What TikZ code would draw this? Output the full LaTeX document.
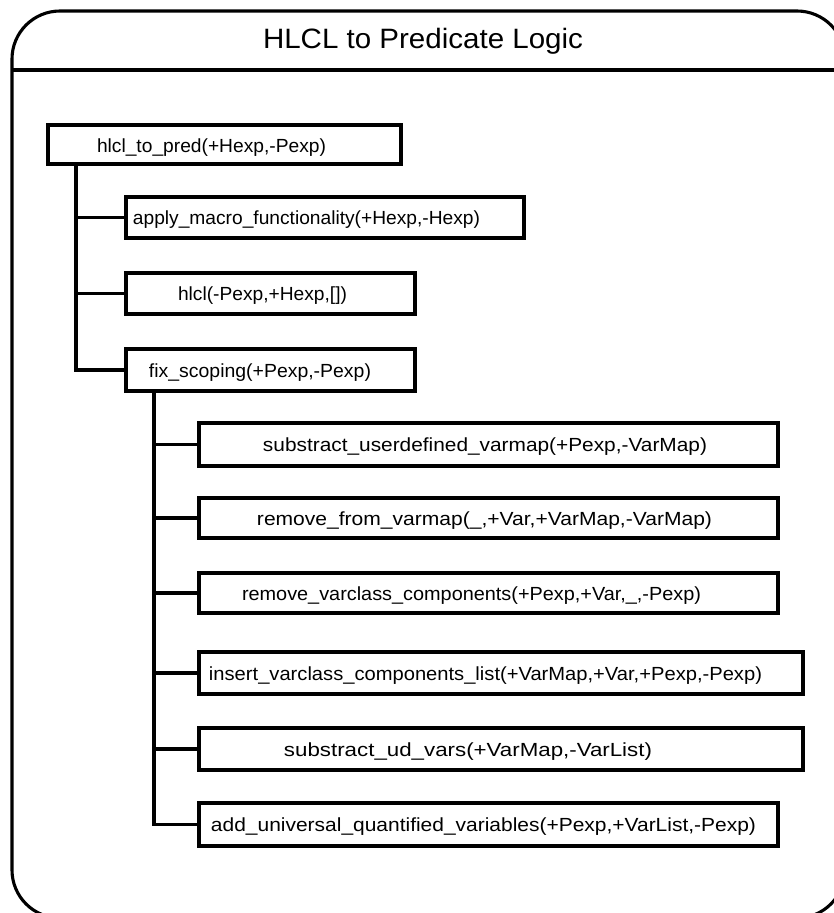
\documentclass[tikz,border=0pt]{standalone}
\usepackage{fontspec}
\setmainfont{Liberation Sans}
\usetikzlibrary{calc}
\tikzset{
  ln/.style={line width=3.1pt, line join=miter},
  box/.style={draw, ln, rectangle, inner sep=0pt, fill=white},
  lbl/.style={inner sep=0pt, anchor=base, font=\fontsize{19}{22}\selectfont},
  ttl/.style={inner sep=0pt, anchor=base, font=\fontsize{28}{32}\selectfont},
}
\newcommand{\bx}[6]{% name, x1, y1, x2, y2
  \node[box, minimum width={(#4-#2)*1pt}, minimum height={(#5-#3)*1pt}] (#1) at ({(#2+#4)/2},{(#3+#5)/2}) {};}
\newcommand{\tx}[5]{% name, cx, baseline y, width, text
  \node[lbl] (#1) at (#2,#3) {\resizebox{#4pt}{\height}{#5}};}
\begin{document}
\begin{tikzpicture}[x=1pt,y=-1pt]
\useasboundingbox (0,0) rectangle (834,913);
\fill[white] (0,0) rectangle (834,913);
\clip (0,0) rectangle (834,913);
% frame
\draw[ln, rounded corners=48pt] (12,11) rectangle (845,918);
\coordinate (tl) at (12,70);
\coordinate (tr) at (845,70);
\draw[ln] (tl) -- (tr);
\node[ttl] (title) at (423,48) {\resizebox{320pt}{\height}{HLCL to Predicate Logic}};
% boxes
\bx{b1}{48}{125}{401}{164}{}
\bx{b2}{126}{197}{524}{238}{}
\bx{b3}{126}{273}{415}{314}{}
\bx{b4}{126}{349}{415}{391}{}
\bx{b5}{199}{423}{778}{466}{}
\bx{b6}{199}{498}{778}{538}{}
\bx{b7}{199}{573}{778}{613}{}
\bx{b8}{199}{652}{803}{694}{}
\bx{b9}{199}{728}{803}{770}{}
\bx{b10}{199}{803}{778}{846}{}
% texts
\tx{t1}{211.5}{152}{229}{hlcl\_to\_pred(+Hexp,-Pexp)}
\tx{t2}{306.5}{224.5}{347}{apply\_macro\_functionality(+Hexp,-Hexp)}
\tx{t3}{262.5}{300.5}{169}{hlcl(-Pexp,+Hexp,[])}
\tx{t4}{260}{377}{222}{fix\_scoping(+Pexp,-Pexp)}
\tx{t5}{485}{451.5}{444}{substract\_userdefined\_varmap(+Pexp,-VarMap)}
\tx{t6}{484.5}{525}{455}{remove\_from\_varmap(\_,+Var,+VarMap,-VarMap)}
\tx{t7}{471.5}{600}{459}{remove\_varclass\_components(+Pexp,+Var,\_,-Pexp)}
\tx{t8}{485.5}{680}{553}{insert\_varclass\_components\_list(+VarMap,+Var,+Pexp,-Pexp)}
\tx{t9}{468}{756}{368}{substract\_ud\_vars(+VarMap,-VarList)}
\tx{t10}{483.5}{831.5}{545}{add\_universal\_quantified\_variables(+Pexp,+VarList,-Pexp)}
% connectors
\draw[ln] (b1.south -| 76,0) |- (b4.west);
\draw[ln] (b2.west) -- (b2.west -| 76,0);
\draw[ln] (b3.west) -- (b3.west -| 76,0);
\draw[ln] (b4.south -| 154,0) |- (b10.west);
\foreach \b in {b5,b6,b7,b8,b9}{
  \draw[ln] (\b.west) -- (\b.west -| 154,0);
}
\end{tikzpicture}
\end{document}
